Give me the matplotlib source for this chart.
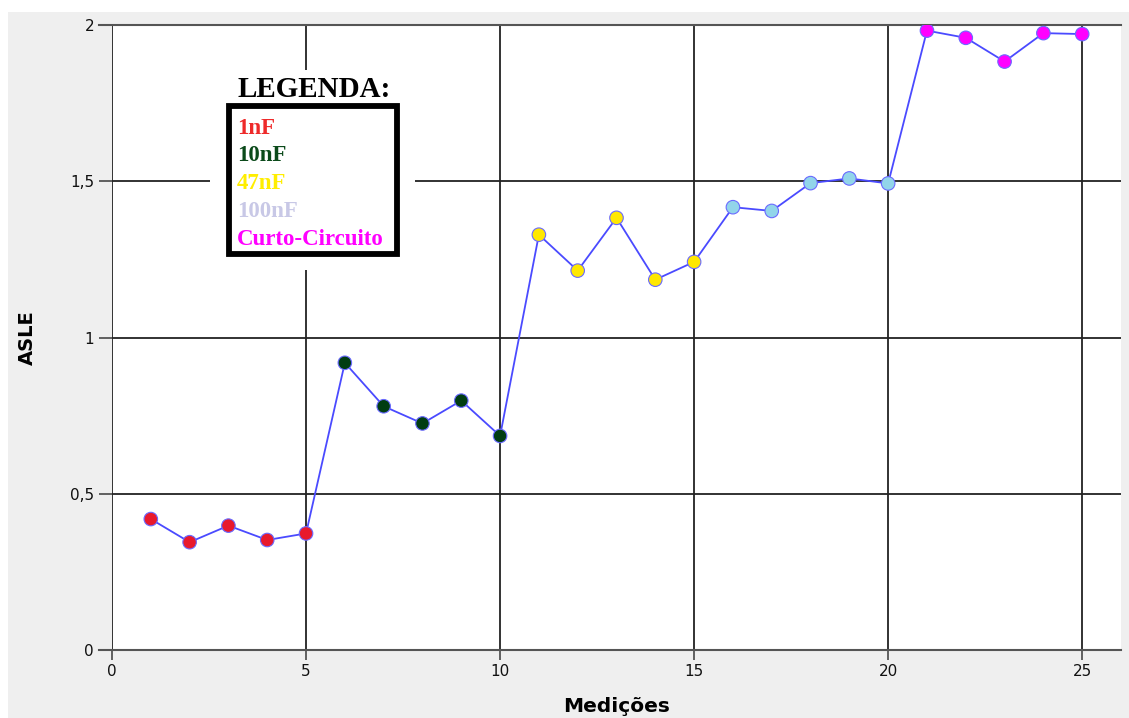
import matplotlib
matplotlib.use("Agg")
import matplotlib.pyplot as plt
from matplotlib.patches import Rectangle
from matplotlib.ticker import FuncFormatter

# Measurement index and ASLE value per measurement
medicoes = list(range(1, 26))
asle = [0.419, 0.345, 0.398, 0.352, 0.373,
        0.919, 0.780, 0.725, 0.798, 0.685,
        1.329, 1.214, 1.383, 1.185, 1.242,
        1.417, 1.405, 1.494, 1.509, 1.493,
        1.982, 1.959, 1.883, 1.974, 1.971]

# Capacitor group of each measurement (5 measurements per group)
grupos = ["1nF"] * 5 + ["10nF"] * 5 + ["47nF"] * 5 + ["100nF"] * 5 + ["Curto-Circuito"] * 5
marker_colors = {"1nF": "#e8192c", "10nF": "#003d12", "47nF": "#ffe800",
                 "100nF": "#92d5ea", "Curto-Circuito": "#ff00ff"}
legend_labels = ["1nF", "10nF", "47nF", "100nF", "Curto-Circuito"]
legend_colors = ["#ee2a2a", "#0b4a1a", "#ffee00", "#c8c8e6", "#ff00ff"]

x_ticks = [0, 5, 10, 15, 20, 25]
y_ticks = [0, 0.5, 1, 1.5, 2]

W, H = 1129, 718
fig = plt.figure(figsize=(W / 100, H / 100), dpi=100, facecolor="white")
fig.patches.append(Rectangle((8 / W, 0), 1 - 8 / W, (H - 12) / H,
                             transform=fig.transFigure, facecolor="#efefef",
                             edgecolor="none", zorder=-10))

ax = fig.add_axes([112 / W, (H - 650) / H, 1009 / W, 625 / H])
ax.set_facecolor("white")
ax.set_xlim(0, 26.0)
ax.set_ylim(0, 2)
ax.set_xticks(x_ticks)
ax.set_yticks(y_ticks)
ax.yaxis.set_major_formatter(FuncFormatter(lambda v, p: f"{v:g}".replace(".", ",")))

for s in ax.spines.values():
    s.set_visible(False)
ax.grid(True, color="#222222", linewidth=1.3, zorder=0)
ax.tick_params(axis="y", length=9.4, width=1.3, color="#555555", pad=3.5,
               labelsize=11, labelcolor="#111111")
ax.tick_params(axis="x", length=7.2, width=1.3, color="#555555", pad=3,
               labelsize=11, labelcolor="#111111")
ax.set_axisbelow(True)

# Top and bottom border lines extend over the y tick area
for yv in (0, 2):
    ax.plot([-13 / 38.8, 26.0], [yv, yv], color="#555555", lw=1.5,
            clip_on=False, zorder=1)

ax.plot(medicoes, asle, color="#4a4aff", lw=1.3, zorder=3)
ax.scatter(medicoes, asle, s=95, c=[marker_colors[g] for g in grupos],
           edgecolors="#6a6aff", linewidths=0.8, zorder=4)

# Legend panel
ax.add_patch(Rectangle((0.0971, 0.608), 0.2032, 0.320, transform=ax.transAxes,
                       facecolor="white", edgecolor="none", zorder=2))
ax.add_patch(Rectangle((0.116, 0.633), 0.1665, 0.238, transform=ax.transAxes,
                       facecolor="white", edgecolor="black", lw=4.2, zorder=5))
ax.text(0.2, 0.897, "LEGENDA:", transform=ax.transAxes, ha="center", va="center",
        family="Liberation Serif", fontweight="bold", fontsize=21, color="black", zorder=6)
for i, (lab, col) in enumerate(zip(legend_labels, legend_colors)):
    ax.text(0.124, 0.835 - i * 0.0445, lab, transform=ax.transAxes, ha="left", va="center",
            family="Liberation Serif", fontweight="bold", fontsize=16.5, color=col, zorder=6)

ax.set_xlabel("Medições", fontsize=14.5, fontweight="bold", labelpad=13)
ax.set_ylabel("ASLE", fontsize=14, fontweight="bold", labelpad=24)

fig.savefig("out.png", dpi=100, facecolor=fig.get_facecolor())
